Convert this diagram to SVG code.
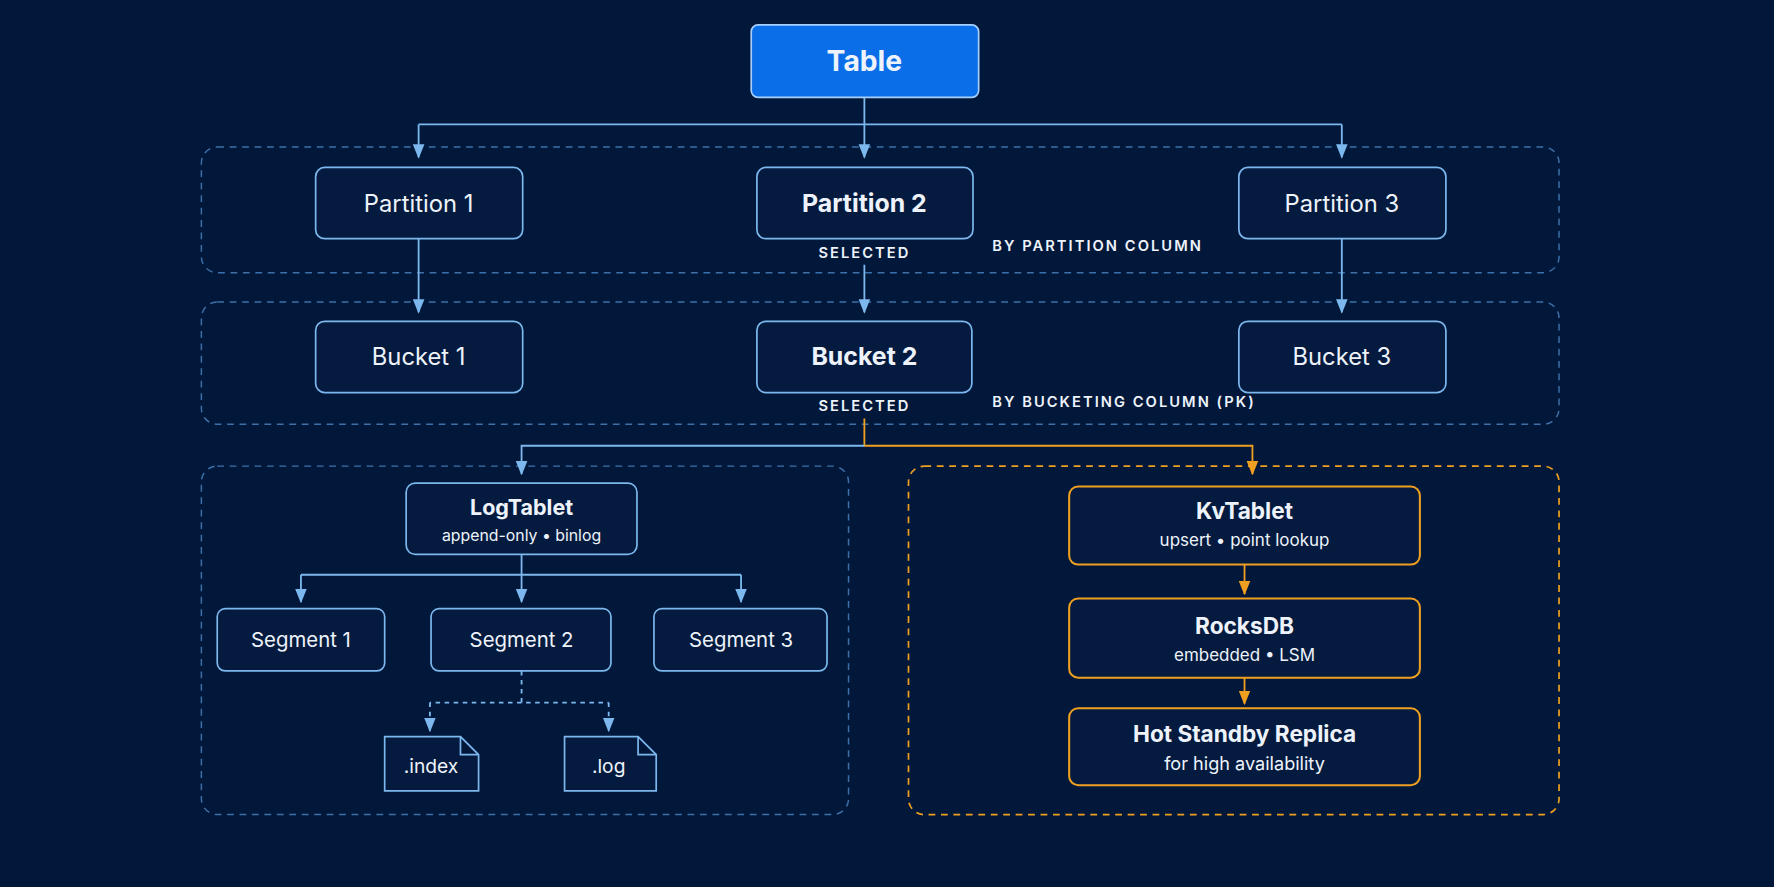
<svg xmlns="http://www.w3.org/2000/svg" width="1774" height="887" viewBox="0 0 1774 887">
<defs>
<style>
.t{font-family:"Inter","Liberation Sans",sans-serif;fill:#eef3fb;text-anchor:middle}
.box{fill:#041b3f;stroke:#7cb8ee;stroke-width:1.5}
.obox{fill:#041b3f;stroke:#f0a020;stroke-width:1.8}
.grp{fill:none;stroke:#3d70a8;stroke-width:1.3;stroke-dasharray:6 5}
.ogrp{fill:none;stroke:#f0a020;stroke-width:1.5;stroke-dasharray:6 5}
.bl{fill:none;stroke:#7cb8ee;stroke-width:1.6}
.or{fill:none;stroke:#f0a020;stroke-width:1.6}
.lab{font-family:"Inter","Liberation Sans",sans-serif;fill:#eef3fb;font-size:13px;font-weight:600;letter-spacing:1.8px}
</style>
<marker id="ab" viewBox="0 0 10 10" refX="9" refY="5" markerWidth="8" markerHeight="8" orient="auto"><path d="M0,1 L10,5 L0,9 z" fill="#7cb8ee"/></marker>
<marker id="ao" viewBox="0 0 10 10" refX="9" refY="5" markerWidth="8" markerHeight="8" orient="auto"><path d="M0,1 L10,5 L0,9 z" fill="#f0a020"/></marker>
</defs>
<rect width="1774" height="887" fill="#02183a"/>
<g transform="scale(1.13138)">
<g id="groups">
<rect class="grp" x="178" y="130" width="1200" height="111" rx="14"/>
<rect class="grp" x="178" y="267" width="1200" height="108" rx="14"/>
<rect class="grp" x="178" y="412" width="572" height="308" rx="14"/>
<rect class="ogrp" x="803" y="412" width="575" height="308" rx="14"/>
<text class="lab" x="877" y="222">BY PARTITION COLUMN</text>
<text class="lab" x="877" y="360">BY BUCKETING COLUMN (PK)</text>
</g>
<g id="connectors">
<path class="bl" d="M764,86 V110 M370,110 H1186"/>
<path class="bl" d="M370,110 V139" marker-end="url(#ab)"/>
<path class="bl" d="M764,110 V139" marker-end="url(#ab)"/>
<path class="bl" d="M1186,110 V139" marker-end="url(#ab)"/>
<path class="bl" d="M370,211 V276" marker-end="url(#ab)"/>
<path class="bl" d="M764,234 V276" marker-end="url(#ab)"/>
<path class="bl" d="M1186,211 V276" marker-end="url(#ab)"/>
<path class="or" d="M764,370 V394 H1107 V419" marker-end="url(#ao)"/>
<path class="bl" d="M764,394 H461 V419" marker-end="url(#ab)"/>
<path class="bl" d="M461,490 V508 M266,508 H655"/>
<path class="bl" d="M266,508 V532" marker-end="url(#ab)"/>
<path class="bl" d="M461,508 V532" marker-end="url(#ab)"/>
<path class="bl" d="M655,508 V532" marker-end="url(#ab)"/>
<path class="bl" stroke-dasharray="4 4" d="M461,593 V621 H538 M461,621 H380"/>
<path class="bl" stroke-dasharray="4 4" d="M380,621 V646" marker-end="url(#ab)"/>
<path class="bl" stroke-dasharray="4 4" d="M538,621 V646" marker-end="url(#ab)"/>
<path class="or" d="M1100,499 V525" marker-end="url(#ao)"/>
<path class="or" d="M1100,599 V622" marker-end="url(#ao)"/>
</g>
<g id="table"><rect x="664" y="22" width="201" height="64" rx="6" fill="#0a6ee8" stroke="#a8d0ff" stroke-width="1.5"/><text class="t" x="764" y="63" font-size="25" font-weight="700">Table</text></g>
<g id="p1"><rect class="box" x="279" y="148" width="183" height="63" rx="8"/><text class="t" x="370" y="187" font-size="21">Partition 1</text></g>
<g id="p2"><rect class="box" x="669" y="148" width="191" height="63" rx="8"/><text class="t" x="764" y="187" font-size="22" font-weight="700">Partition 2</text><text class="lab" x="764" y="228" text-anchor="middle">SELECTED</text></g>
<g id="p3"><rect class="box" x="1095" y="148" width="183" height="63" rx="8"/><text class="t" x="1186" y="187" font-size="21">Partition 3</text></g>
<g id="b1"><rect class="box" x="279" y="284" width="183" height="63" rx="8"/><text class="t" x="370" y="323" font-size="21">Bucket 1</text></g>
<g id="b2"><rect class="box" x="669" y="284" width="190" height="63" rx="8"/><text class="t" x="764" y="323" font-size="22" font-weight="700">Bucket 2</text><text class="lab" x="764" y="363" text-anchor="middle">SELECTED</text></g>
<g id="b3"><rect class="box" x="1095" y="284" width="183" height="63" rx="8"/><text class="t" x="1186" y="323" font-size="21">Bucket 3</text></g>
<g id="logtablet"><rect class="box" x="359" y="427" width="204" height="63" rx="8"/><text class="t" x="461" y="455" font-size="19" font-weight="700">LogTablet</text><text class="t" x="461" y="478" font-size="14">append-only • binlog</text></g>
<g id="s1"><rect class="box" x="192" y="538" width="148" height="55" rx="7"/><text class="t" x="266" y="572" font-size="18">Segment 1</text></g>
<g id="s2"><rect class="box" x="381" y="538" width="159" height="55" rx="7"/><text class="t" x="461" y="572" font-size="18">Segment 2</text></g>
<g id="s3"><rect class="box" x="578" y="538" width="153" height="55" rx="7"/><text class="t" x="655" y="572" font-size="18">Segment 3</text></g>
<g id="fidx"><path class="box" d="M340,651 H407 L423,667 V699 H340 Z M407,651 V667 H423"/><text class="t" x="381" y="683" font-size="17">.index</text></g>
<g id="flog"><path class="box" d="M499,651 H564 L580,667 V699 H499 Z M564,651 V667 H580"/><text class="t" x="538" y="683" font-size="17">.log</text></g>
<g id="kv"><rect class="obox" x="945" y="430" width="310" height="69" rx="8"/><text class="t" x="1100" y="459" font-size="20" font-weight="700">KvTablet</text><text class="t" x="1100" y="483" font-size="15">upsert • point lookup</text></g>
<g id="rocks"><rect class="obox" x="945" y="529" width="310" height="70" rx="8"/><text class="t" x="1100" y="560" font-size="20" font-weight="700">RocksDB</text><text class="t" x="1100" y="584" font-size="15">embedded • LSM</text></g>
<g id="hot"><rect class="obox" x="945" y="626" width="310" height="68" rx="8"/><text class="t" x="1100" y="656" font-size="20" font-weight="700">Hot Standby Replica</text><text class="t" x="1100" y="681" font-size="16">for high availability</text></g>
</g>
</svg>
